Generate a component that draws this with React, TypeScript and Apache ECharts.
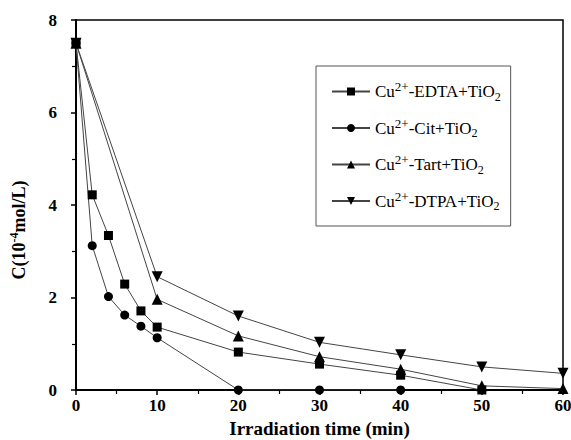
import React, { useEffect, useRef } from "react";
import * as echarts from "echarts";

const timeEDTA = [0, 2, 4, 6, 8, 10, 20, 30, 40, 50];
const valEDTA = [7.5, 4.22, 3.34, 2.29, 1.71, 1.36, 0.82, 0.56, 0.32, 0.0];
const timeCit = [0, 2, 4, 6, 8, 10, 20, 30, 40];
const valCit = [7.5, 3.12, 2.02, 1.62, 1.38, 1.13, 0.0, 0.0, 0.0];
const timeTart = [0, 10, 20, 30, 40, 50, 60];
const valTart = [7.5, 1.96, 1.17, 0.72, 0.45, 0.09, 0.03];
const timeDTPA = [0, 10, 20, 30, 40, 50, 60];
const valDTPA = [7.5, 2.45, 1.6, 1.03, 0.76, 0.5, 0.36];

const seriesNames = ["Cu2+-EDTA+TiO2", "Cu2+-Cit+TiO2", "Cu2+-Tart+TiO2", "Cu2+-DTPA+TiO2"];
const legendRich: Record<string, string> = {
  "Cu2+-EDTA+TiO2": "Cu{sup|2+}-EDTA+TiO{sub|2}",
  "Cu2+-Cit+TiO2": "Cu{sup|2+}-Cit+TiO{sub|2}",
  "Cu2+-Tart+TiO2": "Cu{sup|2+}-Tart+TiO{sub|2}",
  "Cu2+-DTPA+TiO2": "Cu{sup|2+}-DTPA+TiO{sub|2}",
};

const xTitle = "Irradiation time (min)";
const yTitle = "C(10{sup|-4}mol/L)";

const FONT = "Times New Roman, Liberation Serif, DejaVu Serif, serif";

function pairs(xs: number[], ys: number[]) {
  return xs.map((x, i) => [x, ys[i]]);
}

export default function App() {
  const ref = useRef<HTMLDivElement>(null);
  useEffect(() => {
    if (!ref.current) return;
    const chart = echarts.init(ref.current, undefined, { renderer: "svg" });
    const lineStyle = { color: "#444", width: 1 };
    const mk = (name: string, data: number[][], symbol: string, size: number) => ({
      name,
      type: "line",
      data,
      symbol,
      symbolSize: size,
      lineStyle,
      itemStyle: { color: "#000" },
      clip: true,
    });
    chart.setOption({
      animation: false,
      backgroundColor: "#fff",
      textStyle: { fontFamily: FONT },
      grid: {
        left: 76,
        right: 8,
        top: 20,
        bottom: 50,
        show: true,
        borderColor: "#000",
        borderWidth: 1.5,
        containLabel: false,
        outerBoundsMode: "none",
      },
      legend: {
        orient: "vertical",
        left: 316,
        top: 66,
        width: 197,
        padding: [14, 10, 14, 15],
        itemGap: 14,
        itemWidth: 38,
        itemHeight: 10,
        borderColor: "#555",
        borderWidth: 1,
        backgroundColor: "#fff",
        data: seriesNames,
        formatter: (n: string) => legendRich[n] || n,
        textStyle: {
          fontFamily: FONT,
          fontSize: 17,
          color: "#000",
          rich: {
            sup: { fontFamily: FONT, fontSize: 13, color: "#000", padding: [0, 0, 10, 0] },
            sub: { fontFamily: FONT, fontSize: 12, color: "#000", padding: [10, 0, 0, 0] },
          },
        },
      },
      xAxis: {
        type: "value",
        min: 0,
        max: 60,
        interval: 10,
        name: xTitle,
        nameLocation: "middle",
        nameGap: 27,
        nameTextStyle: { fontFamily: FONT, fontSize: 19, fontWeight: "bold", color: "#000" },
        axisLine: { show: true, lineStyle: { color: "#000", width: 2 } },
        axisTick: { show: true, inside: false, length: 5, lineStyle: { color: "#000", width: 1.5 } },
        minorTick: { show: true, splitNumber: 2, length: 4, lineStyle: { color: "#000", width: 1.2 } },
        axisLabel: { fontFamily: FONT, fontSize: 17, fontWeight: "bold", color: "#000", margin: 7 },
        splitLine: { show: false },
      },
      yAxis: {
        type: "value",
        min: 0,
        max: 8,
        interval: 2,
        name: yTitle,
        nameLocation: "middle",
        nameGap: 46,
        nameTextStyle: {
          fontFamily: FONT,
          fontSize: 18,
          fontWeight: "bold",
          color: "#000",
          padding: [0, 50, 0, 0],
          rich: {
            sup: { fontFamily: FONT, fontSize: 12, fontWeight: "bold", color: "#000", padding: [0, 0, 10, 0] },
          },
        },
        axisLine: { show: true, lineStyle: { color: "#000", width: 2 } },
        axisTick: { show: true, inside: false, length: 5, lineStyle: { color: "#000", width: 1.5 } },
        minorTick: { show: true, splitNumber: 2, length: 4, lineStyle: { color: "#000", width: 1.2 } },
        axisLabel: { fontFamily: FONT, fontSize: 17, fontWeight: "bold", color: "#000", margin: 19 },
        splitLine: { show: false },
      },
      series: [
        mk(seriesNames[0], pairs(timeEDTA, valEDTA), "rect", 9),
        mk(seriesNames[1], pairs(timeCit, valCit), "circle", 9),
        mk(seriesNames[2], pairs(timeTart, valTart), "triangle", 11),
        mk(seriesNames[3], pairs(timeDTPA, valDTPA), "path://M0,0 L10,0 L5,9 Z", 11),
      ],
    });
    return () => chart.dispose();
  }, []);
  return <div ref={ref} style={{ width: 571, height: 440, position: "absolute", left: 0, top: 0 }} />;
}
